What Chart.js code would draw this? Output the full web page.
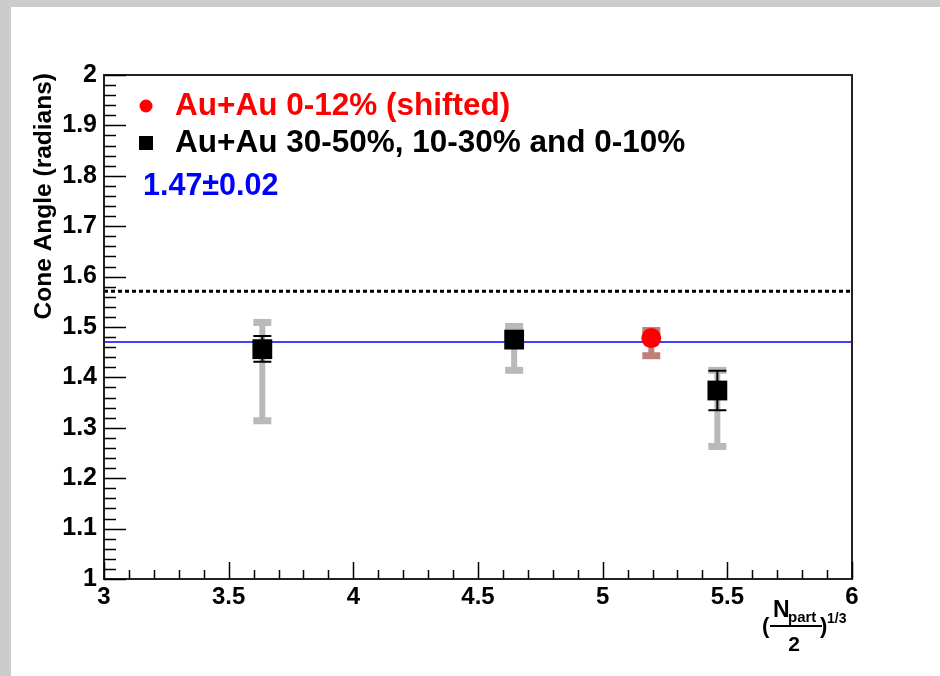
<!DOCTYPE html>
<html>
<head>
<meta charset="utf-8">
<script src="https://cdn.jsdelivr.net/npm/chart.js@4.4.1/dist/chart.umd.min.js"></script>
<style>
  html, body { margin: 0; padding: 0; background: #fff; }
  #wrap { width: 940px; height: 676px; position: relative; }
</style>
</head>
<body>
<div id="wrap"><canvas id="cone"></canvas></div>
<script>
// values
const xTicks = [3, 3.5, 4, 4.5, 5, 5.5, 6];
const yTicks = [1, 1.1, 1.2, 1.3, 1.4, 1.5, 1.6, 1.7, 1.8, 1.9, 2];

// Au+Au 30-50%, 10-30%, 0-10% (black squares)
const auX     = [3.635, 4.645, 5.46];
const auY     = [1.456, 1.475, 1.374];
const auStatLo = [1.431, 1.465, 1.335];
const auStatHi = [1.482, 1.485, 1.413];
const auSysLo  = [1.315, 1.415, 1.264];
const auSysHi  = [1.510, 1.502, 1.415];

// Au+Au 0-12% (shifted) (red circle)
const redX     = [5.195];
const redY     = [1.478];
const redSysLo = [1.444];
const redSysHi = [1.494];

const fitValue = 1.47;      // blue line
const piHalf   = 1.5708;    // dotted line

const legendRed   = "Au+Au 0-12% (shifted)";
const legendBlack = "Au+Au 30-50%, 10-30% and 0-10%";
const fitLabel    = "1.47\u00b10.02";
const yTitle      = "Cone Angle (radians)";

const FONT = "'Liberation Sans', Arial, sans-serif";

function pts(xs, ys) {
	return xs.map((x, i) => ({ x: x, y: ys[i] }));
}

function fmt(v) {
	return String(parseFloat(v.toFixed(2)));
}

// frame, root-style ticks inside, error bars, texts
const rootStyle = {
	id: 'rootStyle',
	beforeDraw(chart) {
		const c = chart.ctx;
		c.save();
		c.fillStyle = '#ffffff';
		c.fillRect(0, 0, chart.width, chart.height);
		c.fillStyle = '#cccccc';
		c.fillRect(0, 0, chart.width, 7);
		c.fillRect(0, 0, 11, chart.height);
		c.restore();
	},
	beforeDatasetsDraw(chart) {
		const c = chart.ctx;
		const xs = chart.scales.x, ys = chart.scales.y;
		c.save();
		// systematic bars (grey)
		function sysBar(x, lo, hi, color) {
			const px = xs.getPixelForValue(x);
			const pl = ys.getPixelForValue(lo), ph = ys.getPixelForValue(hi);
			c.fillStyle = color;
			c.fillRect(px - 3, ph, 6, pl - ph);
			c.fillRect(px - 9, ph - 3, 18, 7);
			c.fillRect(px - 9, pl - 3, 18, 7);
		}
		auX.forEach((x, i) => sysBar(x, auSysLo[i], auSysHi[i], '#b9b9b9'));
		redX.forEach((x, i) => sysBar(x, redSysLo[i], redSysHi[i], '#c0807a'));
		// statistical bars (black)
		c.strokeStyle = '#000';
		c.lineWidth = 2;
		auX.forEach((x, i) => {
			const px = xs.getPixelForValue(x);
			const pl = ys.getPixelForValue(auStatLo[i]), ph = ys.getPixelForValue(auStatHi[i]);
			c.beginPath();
			c.moveTo(px, pl); c.lineTo(px, ph);
			c.moveTo(px - 9, pl); c.lineTo(px + 9, pl);
			c.moveTo(px - 9, ph); c.lineTo(px + 9, ph);
			c.stroke();
		});
		c.restore();
	},
	afterDraw(chart) {
		const c = chart.ctx;
		const a = chart.chartArea;
		const xs = chart.scales.x, ys = chart.scales.y;
		c.save();
		// frame
		c.strokeStyle = '#222';
		c.lineWidth = 2;
		c.strokeRect(a.left, a.top, a.right - a.left, a.bottom - a.top);
		// ticks
		c.lineWidth = 1.5;
		c.strokeStyle = '#000';
		c.beginPath();
		for (let k = 0; k <= 50; k++) {
			const v = 1 + k * 0.02;
			const py = Math.round(ys.getPixelForValue(v)) + 0.5;
			const len = (k % 5 === 0) ? 22 : 12;
			c.moveTo(a.left, py); c.lineTo(a.left + len, py);
		}
		for (let k = 0; k <= 30; k++) {
			const v = 3 + k * 0.1;
			const px = Math.round(xs.getPixelForValue(v)) + 0.5;
			const len = (k % 5 === 0) ? 17 : 9;
			c.moveTo(px, a.bottom); c.lineTo(px, a.bottom - len);
		}
		c.stroke();

		// legend
		c.textBaseline = 'middle';
		c.textAlign = 'left';
		c.font = 'bold 31.5px ' + FONT;
		c.fillStyle = '#ff0000';
		c.beginPath(); c.arc(146, 106, 6.5, 0, Math.PI * 2); c.fill();
		c.fillText(legendRed, 175, 106);
		c.fillStyle = '#000000';
		c.fillRect(139, 136, 14, 14);
		c.fillText(legendBlack, 175, 143);
		c.fillStyle = '#0000ff';
		c.font = 'bold 30.5px ' + FONT;
		c.fillText(fitLabel, 143, 187);

		// y title
		c.save();
		c.translate(44, 73);
		c.rotate(-Math.PI / 2);
		c.fillStyle = '#000';
		c.textAlign = 'right';
		c.textBaseline = 'middle';
		c.font = 'bold 24.5px ' + FONT;
		c.fillText(yTitle, 0, 0);
		c.restore();

		// x title  ( N_part / 2 )^1/3
		c.fillStyle = '#000';
		c.textBaseline = 'alphabetic';
		c.textAlign = 'left';
		c.font = 'bold 23px ' + FONT;
		c.fillText('N', 773, 617);
		c.font = 'bold 15px ' + FONT;
		c.fillText('part', 788, 622);
		c.fillRect(770, 625, 52, 2);
		c.font = 'bold 21px ' + FONT;
		c.textAlign = 'center';
		c.fillText('2', 794, 651);
		c.textAlign = 'left';
		c.font = 'bold 22px ' + FONT;
		c.fillText('(', 762, 633);
		c.fillText(')', 820, 633);
		c.font = 'bold 14px ' + FONT;
		c.fillText('1/3', 827, 623);
		c.restore();
	}
};

new Chart(document.getElementById('cone'), {
	type: 'scatter',
	data: {
		datasets: [
			{
				label: legendRed,
				data: pts(redX, redY),
				pointStyle: 'circle',
				pointRadius: 10,
				backgroundColor: '#ff0000',
				borderColor: '#ff0000',
				borderWidth: 0
			},
			{
				label: legendBlack,
				data: pts(auX, auY),
				pointStyle: 'rect',
				pointRadius: 14,
				backgroundColor: '#000000',
				borderColor: '#000000',
				borderWidth: 0
			},
			{
				label: 'fit',
				data: [{ x: 3, y: fitValue }, { x: 6, y: fitValue }],
				showLine: true,
				borderColor: '#0000ff',
				borderWidth: 1.5,
				pointRadius: 0
			},
			{
				label: 'pi/2',
				data: [{ x: 3, y: piHalf }, { x: 6, y: piHalf }],
				showLine: true,
				borderColor: '#000000',
				borderWidth: 3,
				borderDash: [4, 3],
				pointRadius: 0
			}
		]
	},
	options: {
		responsive: true,
		maintainAspectRatio: false,
		animation: false,
		layout: { padding: { top: 75, right: 88, left: 0, bottom: 0 } },
		plugins: {
			legend: { display: false },
			tooltip: { enabled: false }
		},
		scales: {
			x: {
				type: 'linear',
				min: 3, max: 6,
				grid: { display: false, drawTicks: false },
				border: { display: false },
				afterFit: s => { s.height = 97; },
				afterBuildTicks: s => { s.ticks = xTicks.map(v => ({ value: v })); },
				ticks: {
					padding: 4,
					color: '#000',
					callback: v => fmt(v),
					font: { family: FONT, size: 24, weight: 'bold' }
				}
			},
			y: {
				type: 'linear',
				min: 1, max: 2,
				grid: { display: false, drawTicks: false },
				border: { display: false },
				afterFit: s => { s.width = 104; },
				afterBuildTicks: s => { s.ticks = yTicks.map(v => ({ value: v })); },
				ticks: {
					padding: 7,
					color: '#000',
					callback: v => fmt(v),
					font: { family: FONT, size: 25, weight: 'bold' }
				}
			}
		}
	},
	plugins: [rootStyle]
});
</script>
</body>
</html>
